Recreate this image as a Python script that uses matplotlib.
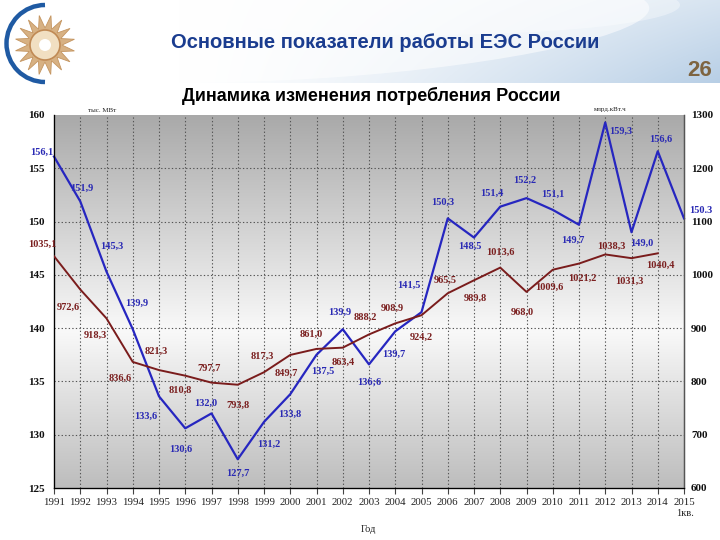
import numpy as np
import matplotlib
matplotlib.use("Agg")
import matplotlib.pyplot as plt
from matplotlib.colors import LinearSegmentedColormap
from matplotlib.patches import Arc, Circle, Polygon, Ellipse

# ---------------- data ----------------
years = list(range(1991, 2016))
year_labels = [str(y) for y in years]

peak_gw = [156.1, 151.9, 145.3, 139.9, 133.6, 130.6, 132.0, 127.7, 131.2, 133.8,
           137.5, 139.9, 136.6, 139.7, 141.5, 150.3, 148.5, 151.4, 152.2, 151.1,
           149.7, 159.3, 149.0, 156.6, 150.3]
peak_labels = ["156,1", "151,9", "145,3", "139,9", "133,6", "130,6", "132,0", "127,7",
               "131,2", "133,8", "137,5", "139,9", "136;6", "139,7", "141,5", "150,3",
               "148,5", "151,4", "152,2", "151,1", "149,7", "159,3", "149,0", "156,6",
               "150.3"]

cons_years = list(range(1991, 2015))
consumption = [1035.1, 972.6, 918.3, 836.6, 821.3, 810.8, 797.7, 793.8, 817.3, 849.7,
               861.0, 863.4, 888.2, 908.9, 924.2, 965.5, 989.8, 1013.6, 968.0, 1009.6,
               1021.2, 1038.3, 1031.3, 1040.4]
cons_labels = ["1035,1", "972,6", "918,3", "836,6", "821,3", "810,8", "797,7", "793,8",
               "817,3", "849,7", "861,0", "863,4", "888,2", "908,9", "924,2", "965,5",
               "989,8", "1013,6", "968,0", "1009,6", "1021,2", "1038,3", "1031,3",
               "1040,4"]

left_ticks = [125, 130, 135, 140, 145, 150, 155, 160]
right_ticks = [600, 700, 800, 900, 1000, 1100, 1200, 1300]

# label offsets (pixels) -- layout only
blue_off = [(-12, 4), (2, 13), (5, 25), (4, 26), (-13, -20), (-5, -21), (-6, 10), (0, -14),
            (5, -22), (0, -20), (6, -17), (-3, 17), (0, -18), (-1, -23), (-13, 27), (-5, 16),
            (-4, -9), (-8, 13), (-2, 18), (0, 16), (-6, -16), (15, -9), (10, -11), (3, 12),
            (17, 8)]
red_off = [(-12, 12), (-12, -18), (-11, -17), (-13, -16), (-3, 19), (-5, -15), (-2, 14),
           (0, -21), (-2, 16), (-4, -18), (-5, 15), (0, -15), (-4, 17), (-3, 15), (0, -22),
           (-3, 13), (1, -18), (0, 15), (-4, -20), (-3, -18), (3, -15), (6, 8), (-2, -23),
           (3, -12)]

BLUE = "#2626c0"
BLUE_T = "#2a2ab4"
RED = "#7a1c1c"
RED_T = "#7b2020"
SERIF = ["Liberation Serif", "DejaVu Serif"]
SANS = ["Liberation Sans", "DejaVu Sans"]

fig = plt.figure(figsize=(7.2, 5.4), dpi=100)
fig.patch.set_facecolor("white")

# ---------------- header overlay (pixel coords) ----------------
ov = fig.add_axes([0, 0, 1, 1], zorder=0)
ov.set_xlim(0, 720)
ov.set_ylim(540, 0)
ov.axis("off")

nx, ny = 360, 60
gx = np.linspace(0, 1, nx)[None, :]
gy = np.linspace(0, 1, ny)[:, None]
base = np.clip((gx - 0.25) / 0.75, 0, 1) ** 1.3
img = np.ones((ny, nx, 3))
c_blue = np.array([0.72, 0.81, 0.90])
alpha = base * (0.55 + 0.45 * gy)
for k in range(3):
    img[:, :, k] = 1 - alpha * (1 - c_blue[k])
ov.imshow(img, extent=[0, 720, 83, 0], aspect="auto", zorder=0, interpolation="bilinear")
ov.add_patch(Ellipse((330, 30), 640, 95, angle=-4, facecolor="white", alpha=0.55,
                     edgecolor="none", zorder=1))
ov.add_patch(Ellipse((420, 5), 520, 60, angle=0, facecolor="white", alpha=0.35,
                     edgecolor="none", zorder=1))

# logo
ov.add_patch(Arc((45, 43.5), 77, 77, theta1=90, theta2=270, color="#1f5aa3", lw=3.2, zorder=3))
n_rays = 16
angs = np.linspace(0, 2 * np.pi, 2 * n_rays, endpoint=False)
rad = np.where(np.arange(2 * n_rays) % 2 == 0, 30, 17)
pts = np.column_stack([45 + rad * np.cos(angs + 0.2), 45 + rad * np.sin(angs + 0.2)])
ov.add_patch(Polygon(pts, closed=True, facecolor="#d7b183", edgecolor="#c49560", lw=0.6, zorder=3))
ov.add_patch(Circle((45, 45), 15, facecolor="#f1dfc2", edgecolor="#c08a55", lw=1.2, zorder=4))
ov.add_patch(Circle((45, 45), 6, facecolor="white", edgecolor="none", zorder=5))

ov.text(385, 42, "Основные показатели работы ЕЭС России", ha="center", va="center",
        fontsize=14.5, fontweight="bold", color="#1a3c8f", family=SANS, zorder=6)
ov.text(712, 70, "26", ha="right", va="center", fontsize=16, fontweight="bold",
        color="#7e6440", family=SANS, zorder=6)
ov.text(371, 96, "Динамика изменения потребления России", ha="center", va="center",
        fontsize=13, fontweight="bold", color="black", family=SANS, zorder=6)
ov.text(102, 111, "тыс. МВт", ha="center", va="center", fontsize=5, color="#222222",
        family=SERIF, zorder=6)
ov.text(610, 110, "млрд.кВт.ч", ha="center", va="center", fontsize=5, color="#222222",
        family=SERIF, zorder=6)
ov.text(368, 529, "Год", ha="center", va="center", fontsize=7.5, color="#222222",
        family=SERIF, zorder=6)
ov.text(685, 514, "1кв.", ha="center", va="center", fontsize=7.5, color="#222222",
        family=SERIF, zorder=6)

# ---------------- main chart ----------------
ax = fig.add_axes([54 / 720, 1 - 488 / 540, 630 / 720, 373 / 540], zorder=2)
ax.set_xlim(1991, 2015)
ax.set_ylim(125, 160)

cmap = LinearSegmentedColormap.from_list(
    "bg", [(0.0, "#a9a9a9"), (0.58, "#f9f9f9"), (1.0, "#bdbdbd")])
grad = np.linspace(0, 1, 256)[:, None]
ax.imshow(grad, cmap=cmap, aspect="auto", extent=[0, 1, 0, 1], transform=ax.transAxes,
          zorder=0, interpolation="bilinear")

for y in years[1:-1]:
    ax.axvline(y, color="#555555", lw=0.8, ls=(0, (1.2, 2)), zorder=1)
for v in left_ticks[1:-1]:
    ax.axhline(v, color="#555555", lw=0.8, ls=(0, (1.2, 2)), zorder=1)

ax.set_xticks(years)
ax.set_xticklabels(year_labels, family=SERIF, fontsize=7.8, color="#222222")
ax.set_yticks(left_ticks)
ax.set_yticklabels([str(t) for t in left_ticks], family=SERIF, fontsize=8,
                   fontweight="bold", color="#111111")
ax.tick_params(axis="x", direction="out", length=4, width=0.8, color="#444444", pad=3)
ax.tick_params(axis="y", length=0, pad=6.5)
ax.spines["top"].set_visible(False)
for s in ["left", "bottom", "right"]:
    ax.spines[s].set_color("#555555")
    ax.spines[s].set_linewidth(1.0)

ax2 = ax.twinx()
ax2.set_ylim(600, 1300)
ax2.set_yticks(right_ticks)
ax2.set_yticklabels([str(t) for t in right_ticks], family=SERIF, fontsize=8,
                    fontweight="bold", color="#111111")
ax2.tick_params(axis="y", length=0, pad=5)
ax2.spines["top"].set_visible(False)
ax2.spines["right"].set_color("#555555")

ax.plot(years, peak_gw, color=BLUE, lw=1.6, zorder=4, clip_on=False)
ax2.plot(cons_years, consumption, color=RED, lw=1.4, zorder=3)

for x, v, t, (dx, dy) in zip(years, peak_gw, peak_labels, blue_off):
    ax.annotate(t, (x, v), xytext=(dx, dy), textcoords="offset pixels", ha="center",
                va="center", fontsize=7.5, fontweight="bold", color=BLUE_T,
                family=SERIF, annotation_clip=False, zorder=6)
for x, v, t, (dx, dy) in zip(cons_years, consumption, cons_labels, red_off):
    ax2.annotate(t, (x, v), xytext=(dx, dy), textcoords="offset pixels", ha="center",
                 va="center", fontsize=7.5, fontweight="bold", color=RED_T,
                 family=SERIF, annotation_clip=False, zorder=6)

fig.savefig("out.png", dpi=100)
